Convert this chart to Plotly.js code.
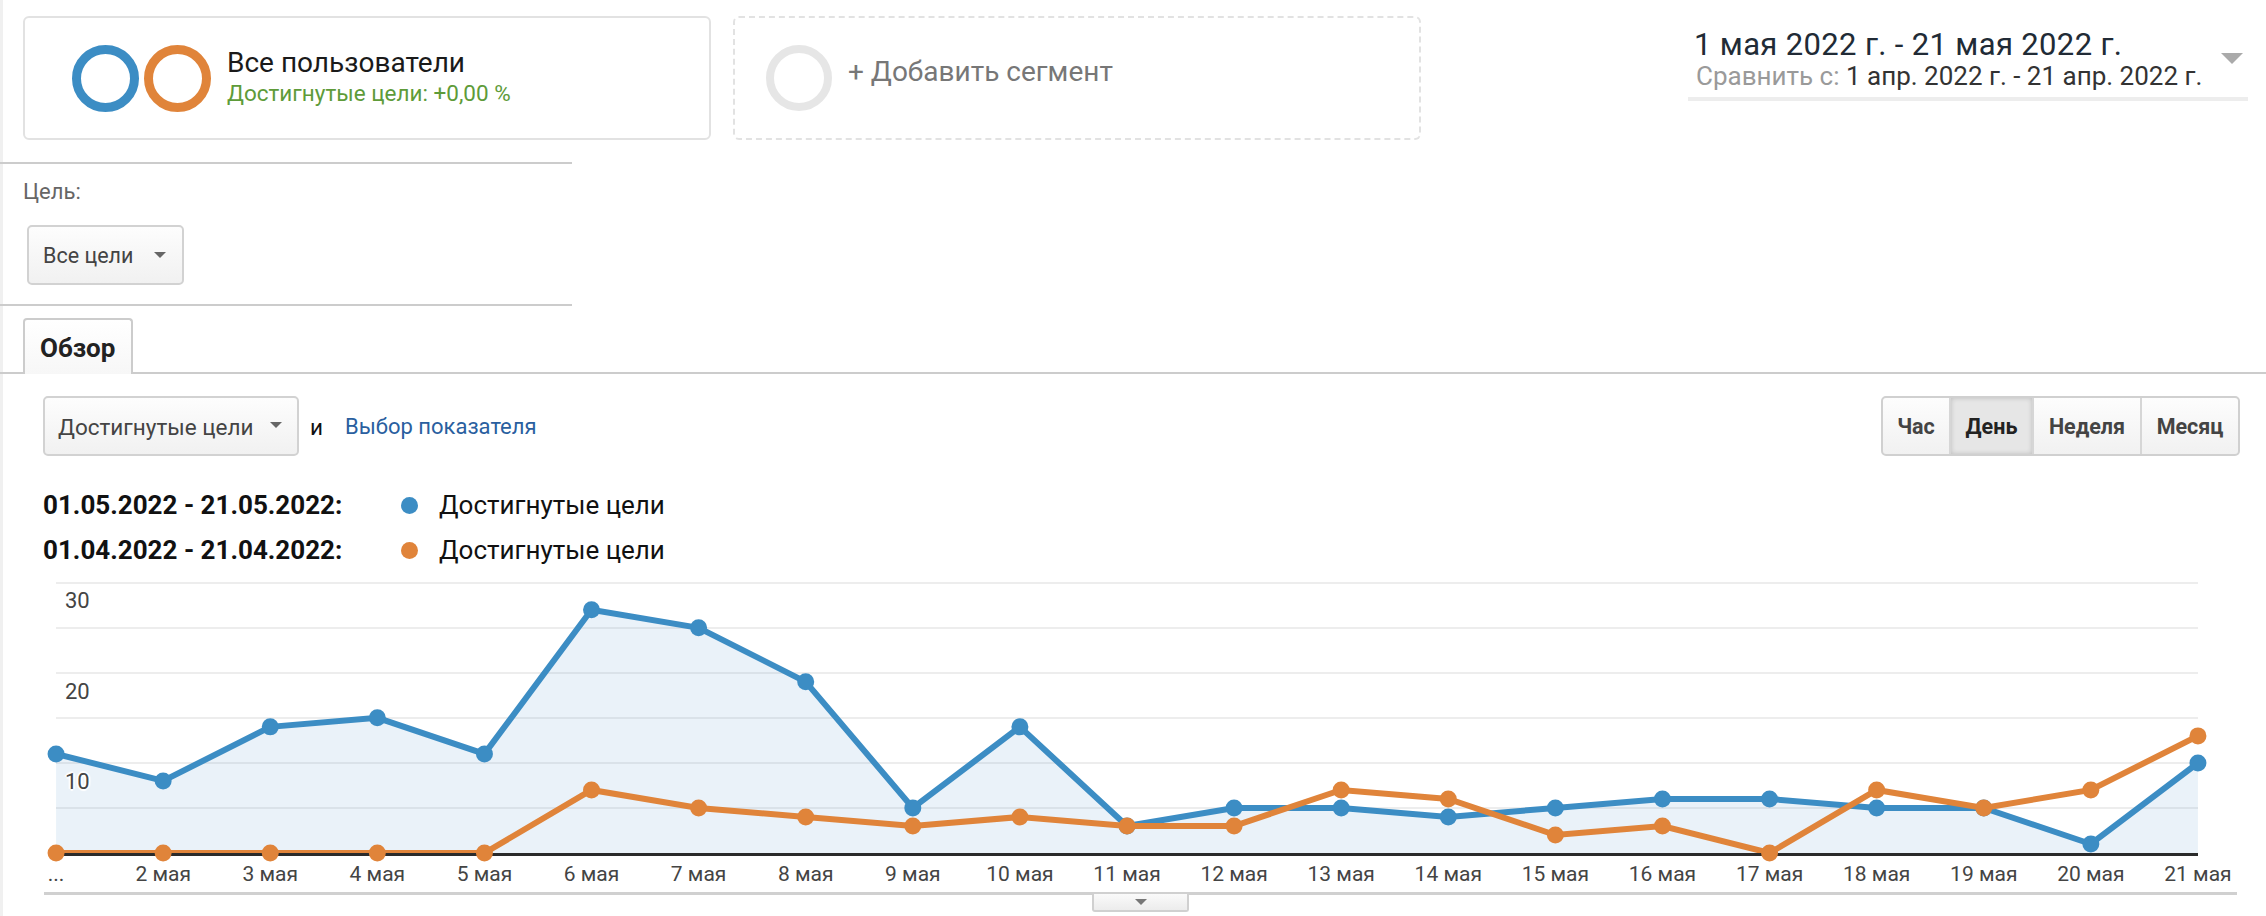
<!DOCTYPE html>
<html>
<head>
<meta charset="utf-8">
<script src="https://cdn.plot.ly/plotly-3.0.1.min.js"></script>
<style>
  html, body { margin:0; padding:0; background:#fff; }
  body { width:2266px; height:916px; position:relative; overflow:hidden; font-family: Roboto, "Noto Sans", Arial, sans-serif; }
  .t { position:absolute; line-height:1; white-space:nowrap; }
  .abs { position:absolute; box-sizing:border-box; }
  #chart { position:absolute; left:0; top:0; width:2266px; height:916px; }
  .tri { position:absolute; width:0; height:0; border-left:6px solid transparent; border-right:6px solid transparent; border-top:6px solid #666; }
  .btn { position:absolute; top:0; height:100%; display:flex; align-items:center; justify-content:center; font-weight:700; font-size:21.5px; color:#444; box-sizing:border-box; }
</style>
</head>
<body>
<!-- left faint border -->
<div class="abs" style="left:0;top:0;width:3px;height:916px;background:#f0f0f0;"></div>

<!-- segment box -->
<div class="abs" style="left:23px;top:16px;width:688px;height:124px;border:2px solid #e2e2e2;border-radius:6px;"></div>
<div class="abs" style="left:72px;top:45px;width:67px;height:67px;border:9px solid #3c8dc4;border-radius:50%;"></div>
<div class="abs" style="left:144px;top:45px;width:67px;height:67px;border:9px solid #e0843a;border-radius:50%;"></div>
<div class="t" style="left:227px;top:48.5px;font-size:28px;color:#1a1a1a;">Все пользователи</div>
<div class="t" style="left:227px;top:81.5px;font-size:22.5px;color:#5e9b39;">Достигнутые цели: +0,00 %</div>

<!-- add segment box -->
<div class="abs" style="left:733px;top:16px;width:688px;height:124px;border:2px dashed #e2e2e2;border-radius:6px;"></div>
<div class="abs" style="left:766px;top:45px;width:66px;height:66px;border:8px solid #e6e6e6;border-radius:50%;"></div>
<div class="t" style="left:848px;top:57.5px;font-size:28px;color:#777;">+ Добавить сегмент</div>

<!-- date range -->
<div class="t" style="left:1694px;top:28.5px;font-size:31px;letter-spacing:0.35px;color:#212b36;">1 мая 2022 г. - 21 мая 2022 г.</div>
<div class="t" style="left:1696px;top:62.5px;font-size:26px;color:#333;"><span style="color:#9a9a9a;">Сравнить с:</span> 1 апр. 2022 г. - 21 апр. 2022 г.</div>
<div class="abs" style="left:2221px;top:53px;width:0;height:0;border-left:11px solid transparent;border-right:11px solid transparent;border-top:11px solid #aaa;"></div>
<div class="abs" style="left:1688px;top:97px;width:560px;height:4px;background:#ededed;"></div>

<!-- goal selector -->
<div class="abs" style="left:0;top:162px;width:572px;height:2px;background:#ccc;"></div>
<div class="t" style="left:23px;top:181px;font-size:22px;color:#666;">Цель:</div>
<div class="abs" style="left:27px;top:225px;width:157px;height:60px;border:2px solid #d2d2d2;border-radius:5px;background:linear-gradient(#fdfdfd,#f1f1f1);"></div>
<div class="t" style="left:43px;top:245px;font-size:21.5px;color:#444;">Все цели</div>
<div class="tri" style="left:154px;top:252px;"></div>
<div class="abs" style="left:0;top:304px;width:572px;height:2px;background:#ccc;"></div>

<!-- tab -->
<div class="abs" style="left:0;top:372px;width:2266px;height:2px;background:#ccc;"></div>
<div class="abs" style="left:23px;top:318px;width:110px;height:56px;border:2px solid #ccc;border-bottom:none;border-radius:4px 4px 0 0;background:linear-gradient(#ffffff,#f7f7f7);"></div>
<div class="t" style="left:40px;top:335px;font-size:26px;font-weight:700;color:#222;">Обзор</div>

<!-- metric selector -->
<div class="abs" style="left:43px;top:396px;width:256px;height:60px;border:2px solid #d2d2d2;border-radius:5px;background:linear-gradient(#fdfdfd,#f1f1f1);"></div>
<div class="t" style="left:58px;top:415.5px;font-size:22.5px;color:#444;">Достигнутые цели</div>
<div class="tri" style="left:270px;top:422px;"></div>
<div class="t" style="left:310px;top:415.5px;font-size:22.5px;color:#111;">и</div>
<div class="t" style="left:345px;top:416px;font-size:22px;color:#2a5f9f;">Выбор показателя</div>

<!-- period buttons -->
<div class="abs" style="left:1881px;top:396px;width:359px;height:60px;border:2px solid #d0d0d0;border-radius:5px;background:linear-gradient(#fdfdfd,#f1f1f1);overflow:hidden;">
  <div class="btn" style="left:0;width:68px;border-right:2px solid #d6d6d6;">Час</div>
  <div class="btn" style="left:68px;width:83px;background:#e6e6e6;box-shadow:inset 0 0 5px rgba(0,0,0,0.18);color:#222;border-right:2px solid #d6d6d6;">День</div>
  <div class="btn" style="left:151px;width:108px;border-right:2px solid #d6d6d6;">Неделя</div>
  <div class="btn" style="left:259px;width:96px;">Месяц</div>
</div>

<!-- legend -->
<div class="t" style="left:43px;top:492px;font-size:26px;font-weight:700;color:#111;">01.05.2022 - 21.05.2022:</div>
<div class="t" style="left:43px;top:537px;font-size:26px;font-weight:700;color:#111;">01.04.2022 - 21.04.2022:</div>
<div class="abs" style="left:401px;top:497px;width:17px;height:17px;border-radius:50%;background:#3c8dc4;"></div>
<div class="abs" style="left:401px;top:542px;width:17px;height:17px;border-radius:50%;background:#e0843a;"></div>
<div class="t" style="left:439px;top:492px;font-size:26px;color:#111;">Достигнутые цели</div>
<div class="t" style="left:439px;top:537px;font-size:26px;color:#111;">Достигнутые цели</div>

<!-- bottom bar -->
<div class="abs" style="left:44px;top:892px;width:2193px;height:3px;background:#d0d0d0;"></div>
<div class="abs" style="left:1092px;top:894px;width:97px;height:18px;border:2px solid #d0d0d0;border-top:none;border-radius:0 0 3px 3px;background:linear-gradient(#fafafa,#ececec);"></div>
<div class="tri" style="left:1135px;top:899px;border-top-color:#777;"></div>

<div id="chart"></div>

<script>
// ---- data ----
const days = ['1 мая','2 мая','3 мая','4 мая','5 мая','6 мая','7 мая','8 мая','9 мая','10 мая','11 мая',
              '12 мая','13 мая','14 мая','15 мая','16 мая','17 мая','18 мая','19 мая','20 мая','21 мая'];
const xTickLabels = ['...','2 мая','3 мая','4 мая','5 мая','6 мая','7 мая','8 мая','9 мая','10 мая','11 мая',
              '12 мая','13 мая','14 мая','15 мая','16 мая','17 мая','18 мая','19 мая','20 мая','21 мая'];
const goalsMay = [11, 8, 14, 15, 11, 27, 25, 19, 5, 14, 3, 5, 5, 4, 5, 6, 6, 5, 5, 1, 10];
const goalsApr = [0, 0, 0, 0, 0, 7, 5, 4, 3, 4, 3, 3, 7, 6, 2, 3, 0, 7, 5, 7, 13];
const yTickVals = [0, 5, 10, 15, 20, 25, 30];
const yTickText = ['', '', '10', '', '20', '', '30'];

const BLUE = '#3c8dc4', ORANGE = '#e0843a';

const traces = [
  {
    x: days, y: goalsMay, type: 'scatter', mode: 'lines+markers', name: '01.05.2022 - 21.05.2022',
    line: {color: BLUE, width: 6}, marker: {color: BLUE, size: 17},
    fill: 'tozeroy', fillcolor: 'rgba(60,141,196,0.11)', cliponaxis: false, hoverinfo: 'skip'
  },
  {
    x: days, y: goalsApr, type: 'scatter', mode: 'lines+markers', name: '01.04.2022 - 21.04.2022',
    line: {color: ORANGE, width: 6}, marker: {color: ORANGE, size: 17},
    cliponaxis: false, hoverinfo: 'skip'
  }
];

const layout = {
  width: 2266, height: 916,
  margin: {l: 56, r: 68, t: 581, b: 63, pad: 0},
  paper_bgcolor: 'rgba(0,0,0,0)', plot_bgcolor: 'rgba(0,0,0,0)',
  showlegend: false,
  font: {family: 'Roboto, Arial, sans-serif', color: '#444'},
  xaxis: {
    type: 'category', categoryorder: 'array', categoryarray: days,
    range: [-0.0005, days.length - 1 + 0.0005], fixedrange: true,
    tickvals: days, ticktext: xTickLabels, ticks: '',
    tickfont: {size: 21, color: '#444'},
    showgrid: false, zeroline: false,
    showline: true, linecolor: '#2b2b2b', linewidth: 3, layer: 'below traces'
  },
  yaxis: {
    range: [0, 30.19], fixedrange: true,
    tickvals: yTickVals, ticktext: yTickText, ticks: '',
    showgrid: true, gridcolor: '#ededed', gridwidth: 2,
    zeroline: false, showline: false,
    ticklabelposition: 'inside', ticklabelstandoff: 6, ticklabelshift: 18,
    ticklabeloverflow: 'allow',
    tickfont: {size: 22, color: '#444',
      shadow: '2px 0 1px #fff, -2px 0 1px #fff, 0 2px 1px #fff, 0 -2px 1px #fff'}
  }
};

Plotly.newPlot('chart', traces, layout, {displayModeBar: false, staticPlot: true});
</script>
</body>
</html>
